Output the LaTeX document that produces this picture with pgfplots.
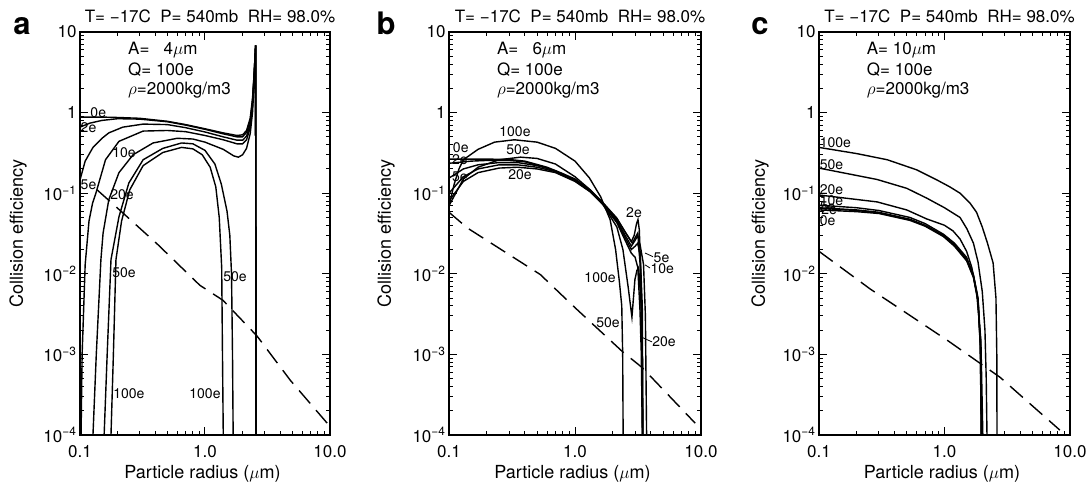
\documentclass[border=0pt]{standalone}
\usepackage{pgfplots}
\pgfplotsset{compat=1.18}
\usepackage{fontspec}
\setmainfont{TeX Gyre Heros}

\pgfplotsset{
  every axis/.append style={
    scale only axis, height=403pt, anchor=south west,
    clip mode=individual,
    xmin=0.1, xmax=10, ymin=1e-4, ymax=10,
    xtick={0.1,1,10}, xticklabels={0.1,1.0,10.0},
    minor xtick={0.2,0.3,0.4,0.5,0.6,0.7,0.8,0.9,2,3,4,5,6,7,8,9},
    ytick={1e-4,1e-3,1e-2,1e-1,1,10},
    yticklabels={10\textsuperscript{−4},10\textsuperscript{−3},10\textsuperscript{−2},10\textsuperscript{−1},1,10},
    minor ytick={2e-4,3e-4,4e-4,5e-4,6e-4,7e-4,8e-4,9e-4,2e-3,3e-3,4e-3,5e-3,6e-3,7e-3,8e-3,9e-3,2e-2,3e-2,4e-2,5e-2,6e-2,7e-2,8e-2,9e-2,0.2,0.3,0.4,0.5,0.6,0.7,0.8,0.9,2,3,4,5,6,7,8,9},
    tick align=inside,
    major tick length=8pt, minor tick length=4pt,
    tick style={black, line width=1pt},
    axis line style={line width=1.8pt},
    tick label style={font=\fontsize{17}{20}\selectfont},
    xticklabel style={anchor=base, yshift=-22pt},
  },
}
\tikzset{
  effcurve/.style={black, line width=1.4pt},
  effref/.style={black, line width=1.4pt, dash pattern=on 17pt off 9pt},
  efflab/.style={font=\fontsize{14}{16}\selectfont, inner sep=0pt},
  efftxt/.style={font=\fontsize{17}{20}\selectfont, inner sep=0pt, anchor=base west},
  effttl/.style={font=\fontsize{17}{20}\selectfont, inner sep=0pt, anchor=base},
  effxl/.style={font=\fontsize{18}{20}\selectfont, inner sep=0pt, anchor=base},
  effyl/.style={font=\fontsize{18}{20}\selectfont, inner sep=0pt, rotate=90},
  effletter/.style={font=\fontsize{31}{34}\selectfont\bfseries, inner sep=0pt, anchor=base},
}

\begin{document}
\begin{tikzpicture}
\useasboundingbox (0,0) rectangle (1091pt,484pt);

% ---------------- panel a ----------------
\begin{loglogaxis}[at={(80pt,49pt)}, width=250pt]
\addplot[effcurve] coordinates {(0.1,0.88) (0.15,0.88) (0.2,0.87) (0.3,0.85) (0.5,0.78) (0.7,0.71) (1.0,0.63) (1.4,0.56) (1.8,0.52) (2.0,0.53) (2.15,0.6) (2.3,0.85) (2.4,1.5) (2.47,3.0) (2.54,6.8) (2.56,1e-4)};
\addplot[effcurve] coordinates {(0.1,0.66) (0.12,0.74) (0.15,0.8) (0.2,0.84) (0.3,0.83) (0.5,0.77) (0.7,0.70) (1.0,0.62) (1.4,0.545) (1.8,0.5) (2.0,0.5) (2.15,0.57) (2.3,0.8) (2.4,1.4) (2.47,2.9) (2.54,6.8) (2.56,1e-4)};
\addplot[effcurve] coordinates {(0.1,0.146) (0.11,0.25) (0.127,0.37) (0.15,0.48) (0.17,0.56) (0.22,0.66) (0.32,0.72) (0.5,0.71) (0.7,0.65) (1.0,0.575) (1.4,0.5) (1.8,0.455) (2.0,0.455) (2.15,0.51) (2.3,0.72) (2.4,1.3) (2.47,2.8) (2.54,6.8) (2.56,1e-4)};
\addplot[effcurve] coordinates {(0.102,1e-4) (0.104,1e-3) (0.11,0.013) (0.118,0.045) (0.126,0.075) (0.134,0.1) (0.16,0.26) (0.205,0.44) (0.32,0.59) (0.5,0.6) (0.7,0.58) (1.0,0.52) (1.4,0.46) (1.8,0.41) (2.0,0.41) (2.15,0.46) (2.3,0.65) (2.4,1.2) (2.47,2.6) (2.54,6.8) (2.56,1e-4)};
\addplot[effcurve] coordinates {(0.127,1e-4) (0.135,1e-3) (0.147,0.015) (0.153,0.032) (0.17,0.083) (0.205,0.18) (0.266,0.30) (0.384,0.42) (0.6,0.48) (0.8,0.47) (1.0,0.43) (1.4,0.35) (1.7,0.29) (1.85,0.28) (2.0,0.3) (2.15,0.36) (2.3,0.55) (2.4,1.0) (2.47,2.3) (2.54,6.8) (2.56,1e-4)};
\addplot[effcurve] coordinates {(0.156,1e-4) (0.165,1e-3) (0.177,0.015) (0.205,0.051) (0.246,0.134) (0.32,0.26) (0.46,0.36) (0.65,0.42) (0.8,0.41) (1.0,0.34) (1.2,0.23) (1.35,0.13) (1.5,0.06) (1.58,0.03) (1.63,0.01) (1.66,1e-3) (1.68,1e-4)};
\addplot[effcurve] coordinates {(0.177,1e-4) (0.185,1e-3) (0.194,0.015) (0.215,0.045) (0.25,0.11) (0.32,0.22) (0.46,0.32) (0.65,0.37) (0.8,0.355) (0.95,0.3) (1.1,0.21) (1.22,0.12) (1.3,0.05) (1.36,0.012) (1.38,1e-3) (1.40,1e-4)};
\addplot[effref] coordinates {(0.137,0.11) (0.22,0.057) (0.42,0.023) (0.91,0.0072) (1.39,0.0047) (2.6,0.0017) (4.8,4.8e-4) (9.5,1.4e-4)};
\node[efflab] at (axis cs:0.14,1.0) {0e};
\node[efflab] at (axis cs:0.117,0.65) {2e};
\node[efflab] at (axis cs:0.117,0.126) {5e};
\node[efflab] at (axis cs:0.225,0.32) {10e};
\node[efflab] at (axis cs:0.217,0.095) {20e};
\node[efflab] at (axis cs:0.225,0.0102) {50e};
\node[efflab] at (axis cs:0.246,3.3e-4) {100e};
\node[efflab] at (axis cs:1.74,0.0091) {50e};
\node[efflab] at (axis cs:1.0,3.3e-4) {100e};
\node[efftxt] at (rel axis cs:0.192,0.943) {A= \phantom{1}4$\mu$m};
\node[efftxt] at (rel axis cs:0.192,0.893) {Q= 100e};
\node[efftxt] at (rel axis cs:0.192,0.8437) {$\rho$=2000kg/m3};
\node[effttl] at (rel axis cs:0.52,1.0248) {T= −17C\ \ P= 540mb\ \ RH= 98.0\%};
\node[effletter] at (rel axis cs:-0.232,0.9926) {a};
\node[effyl] at (rel axis cs:-0.248,0.5) {Collision efficiency};
\node[effxl] at (rel axis cs:0.49,-0.1067) {Particle radius ($\mu$m)};
\end{loglogaxis}

% ---------------- panel b ----------------
\begin{loglogaxis}[at={(449pt,49pt)}, width=252pt]
\addplot[effcurve] coordinates {(0.1,0.265) (0.2,0.265) (0.3,0.262) (0.4,0.25) (0.6,0.21) (0.8,0.175) (1.0,0.15) (1.32,0.11) (1.67,0.076) (2.15,0.049) (2.5,0.033) (2.85,0.024) (3.0,0.028) (3.15,0.032) (3.3,0.012) (3.42,1e-3) (3.45,1e-4)};
\addplot[effcurve] coordinates {(0.1,0.235) (0.15,0.25) (0.2,0.255) (0.3,0.255) (0.4,0.245) (0.6,0.205) (0.8,0.17) (1.0,0.145) (1.32,0.108) (1.67,0.075) (2.15,0.048) (2.5,0.033) (2.8,0.025) (2.95,0.03) (3.08,0.042) (3.16,0.047) (3.24,0.035) (3.33,0.01) (3.4,1e-3) (3.43,1e-4)};
\addplot[effcurve] coordinates {(0.1,0.154) (0.13,0.2) (0.17,0.225) (0.25,0.24) (0.35,0.24) (0.5,0.22) (0.7,0.19) (1.0,0.145) (1.32,0.107) (1.67,0.074) (2.15,0.046) (2.5,0.03) (2.8,0.022) (3.0,0.026) (3.15,0.03) (3.3,0.022) (3.5,0.013) (3.62,0.003) (3.7,1e-4)};
\addplot[effcurve] coordinates {(0.1,0.1) (0.13,0.16) (0.17,0.2) (0.25,0.225) (0.35,0.225) (0.5,0.21) (0.7,0.185) (1.0,0.142) (1.32,0.105) (1.67,0.073) (2.15,0.045) (2.5,0.028) (2.8,0.02) (3.0,0.022) (3.15,0.024) (3.3,0.016) (3.42,0.004) (3.46,1e-4)};
\addplot[effcurve] coordinates {(0.1,0.08) (0.13,0.14) (0.17,0.18) (0.25,0.205) (0.35,0.21) (0.5,0.2) (0.7,0.18) (1.0,0.14) (1.32,0.104) (1.67,0.072) (2.15,0.043) (2.5,0.026) (2.8,0.018) (3.0,0.016) (3.15,0.012) (3.28,0.0035) (3.36,1e-3) (3.42,1e-4)};
\addplot[effcurve] coordinates {(0.1,0.07) (0.13,0.15) (0.17,0.21) (0.25,0.26) (0.37,0.28) (0.5,0.27) (0.7,0.23) (1.0,0.16) (1.32,0.11) (1.67,0.072) (2.15,0.038) (2.4,0.02) (2.64,0.0069) (2.83,0.0029) (2.99,0.0085) (3.1,0.011) (3.2,0.012) (3.35,0.004) (3.42,1e-3) (3.45,1e-4)};
\addplot[effcurve] coordinates {(0.1,0.07) (0.11,0.13) (0.12,0.2) (0.13,0.26) (0.17,0.35) (0.23,0.43) (0.33,0.46) (0.5,0.43) (0.7,0.36) (1.0,0.25) (1.3,0.155) (1.6,0.09) (1.9,0.047) (2.1,0.02) (2.25,0.008) (2.35,0.004) (2.39,1e-3) (2.41,1e-4)};
\addplot[effref] coordinates {(0.1,0.058) (0.14,0.037) (0.53,0.0098) (1.0,0.0038) (2.4,0.00107) (3.4,6.9e-4) (9.0,1.4e-4)};
\node[efflab] at (axis cs:0.334,0.575) {100e};
\node[efflab] at (axis cs:0.353,0.343) {50e};
\node[efflab] at (axis cs:0.366,0.168) {20e};
\node[efflab] at (axis cs:0.124,0.364) {0e};
\node[efflab] at (axis cs:0.122,0.258) {2e};
\node[efflab] at (axis cs:0.122,0.16) {5e};
\node[efflab] at (axis cs:2.94,0.058) {2e};
\node[efflab] at (axis cs:1.58,0.0089) {100e};
\node[efflab] at (axis cs:1.83,0.00246) {50e};
\draw[line width=0.8pt] (axis cs:3.6,0.0181) -- (axis cs:4.16,0.0163);
\draw[line width=0.8pt] (axis cs:3.6,0.0129) -- (axis cs:3.94,0.0118);
\draw[line width=0.8pt] (axis cs:3.28,0.00167) -- (axis cs:4.08,0.00143);
\node[efflab, anchor=west] at (axis cs:4.2,0.0157) {5e};
\node[efflab, anchor=west] at (axis cs:3.96,0.0116) {10e};
\node[efflab, anchor=west] at (axis cs:4.1,0.00143) {20e};
\node[efftxt] at (rel axis cs:0.19,0.943) {A= \phantom{1}6$\mu$m};
\node[efftxt] at (rel axis cs:0.19,0.893) {Q= 100e};
\node[efftxt] at (rel axis cs:0.19,0.8437) {$\rho$=2000kg/m3};
\node[effttl] at (rel axis cs:0.52,1.0248) {T= −17C\ \ P= 540mb\ \ RH= 98.0\%};
\node[effletter] at (rel axis cs:-0.25,0.9926) {b};
\node[effyl] at (rel axis cs:-0.25,0.5) {Collision efficiency};
\node[effxl] at (rel axis cs:0.49,-0.1067) {Particle radius ($\mu$m)};
\end{loglogaxis}

% ---------------- panel c ----------------
\begin{loglogaxis}[at={(819pt,49pt)}, width=251pt]
\addplot[effcurve] coordinates {(0.1,0.062) (0.2,0.059) (0.3,0.056) (0.53,0.046) (0.7,0.039) (0.98,0.029) (1.2,0.022) (1.5,0.0145) (1.7,0.009) (1.85,0.0045) (1.93,0.0012) (1.96,1e-4)};
\addplot[effcurve] coordinates {(0.1,0.065) (0.2,0.061) (0.3,0.057) (0.53,0.047) (0.7,0.0395) (0.98,0.0295) (1.2,0.0225) (1.5,0.015) (1.7,0.0092) (1.85,0.0047) (1.93,0.0013) (1.97,1e-4)};
\addplot[effcurve] coordinates {(0.1,0.066) (0.2,0.062) (0.3,0.058) (0.53,0.0475) (0.7,0.04) (0.98,0.03) (1.2,0.023) (1.5,0.0152) (1.7,0.0094) (1.85,0.0048) (1.93,0.0013) (1.97,1e-4)};
\addplot[effcurve] coordinates {(0.1,0.071) (0.2,0.066) (0.3,0.061) (0.53,0.05) (0.7,0.042) (0.98,0.031) (1.2,0.024) (1.5,0.016) (1.7,0.0098) (1.85,0.005) (1.94,0.0014) (1.98,1e-4)};
\addplot[effcurve] coordinates {(0.1,0.095) (0.29,0.078) (0.5,0.062) (0.72,0.048) (1.0,0.04) (1.17,0.034) (1.33,0.027) (1.5,0.019) (1.65,0.012) (1.8,0.006) (1.95,0.0015) (2.02,1e-4)};
\addplot[effcurve] coordinates {(0.1,0.205) (0.29,0.148) (0.5,0.115) (0.72,0.087) (1.0,0.066) (1.33,0.05) (1.51,0.036) (1.7,0.024) (1.85,0.014) (2.0,0.006) (2.1,0.002) (2.15,5e-4) (2.18,1e-4)};
\addplot[effcurve] coordinates {(0.1,0.37) (0.2,0.31) (0.35,0.26) (0.6,0.195) (0.87,0.146) (1.1,0.12) (1.33,0.1) (1.6,0.075) (1.8,0.058) (2.0,0.038) (2.2,0.024) (2.44,0.0136) (2.57,0.005) (2.61,1e-3) (2.62,1e-4)};
\addplot[effref] coordinates {(0.1,0.019) (0.255,0.0065) (1.05,0.0015) (2.77,5.2e-4) (8.3,1.15e-4)};
\node[efflab, anchor=west] at (axis cs:0.101,0.42) {100e};
\node[efflab, anchor=west] at (axis cs:0.101,0.224) {50e};
\node[efflab, anchor=west] at (axis cs:0.101,0.11) {20e};
\node[efflab, anchor=west] at (axis cs:0.101,0.08) {10e};
\node[efflab, anchor=west] at (axis cs:0.101,0.067) {5e};
\node[efflab, anchor=west] at (axis cs:0.104,0.062) {2e};
\node[efflab, anchor=west] at (axis cs:0.101,0.046) {0e};
\node[efftxt] at (rel axis cs:0.19,0.943) {A= 10$\mu$m};
\node[efftxt] at (rel axis cs:0.19,0.893) {Q= 100e};
\node[efftxt] at (rel axis cs:0.19,0.8437) {$\rho$=2000kg/m3};
\node[effttl] at (rel axis cs:0.52,1.0248) {T= −17C\ \ P= 540mb\ \ RH= 98.0\%};
\node[effletter] at (rel axis cs:-0.235,0.9926) {c};
\node[effyl] at (rel axis cs:-0.235,0.5) {Collision efficiency};
\node[effxl] at (rel axis cs:0.49,-0.1067) {Particle radius ($\mu$m)};
\end{loglogaxis}
\end{tikzpicture}
\end{document}
